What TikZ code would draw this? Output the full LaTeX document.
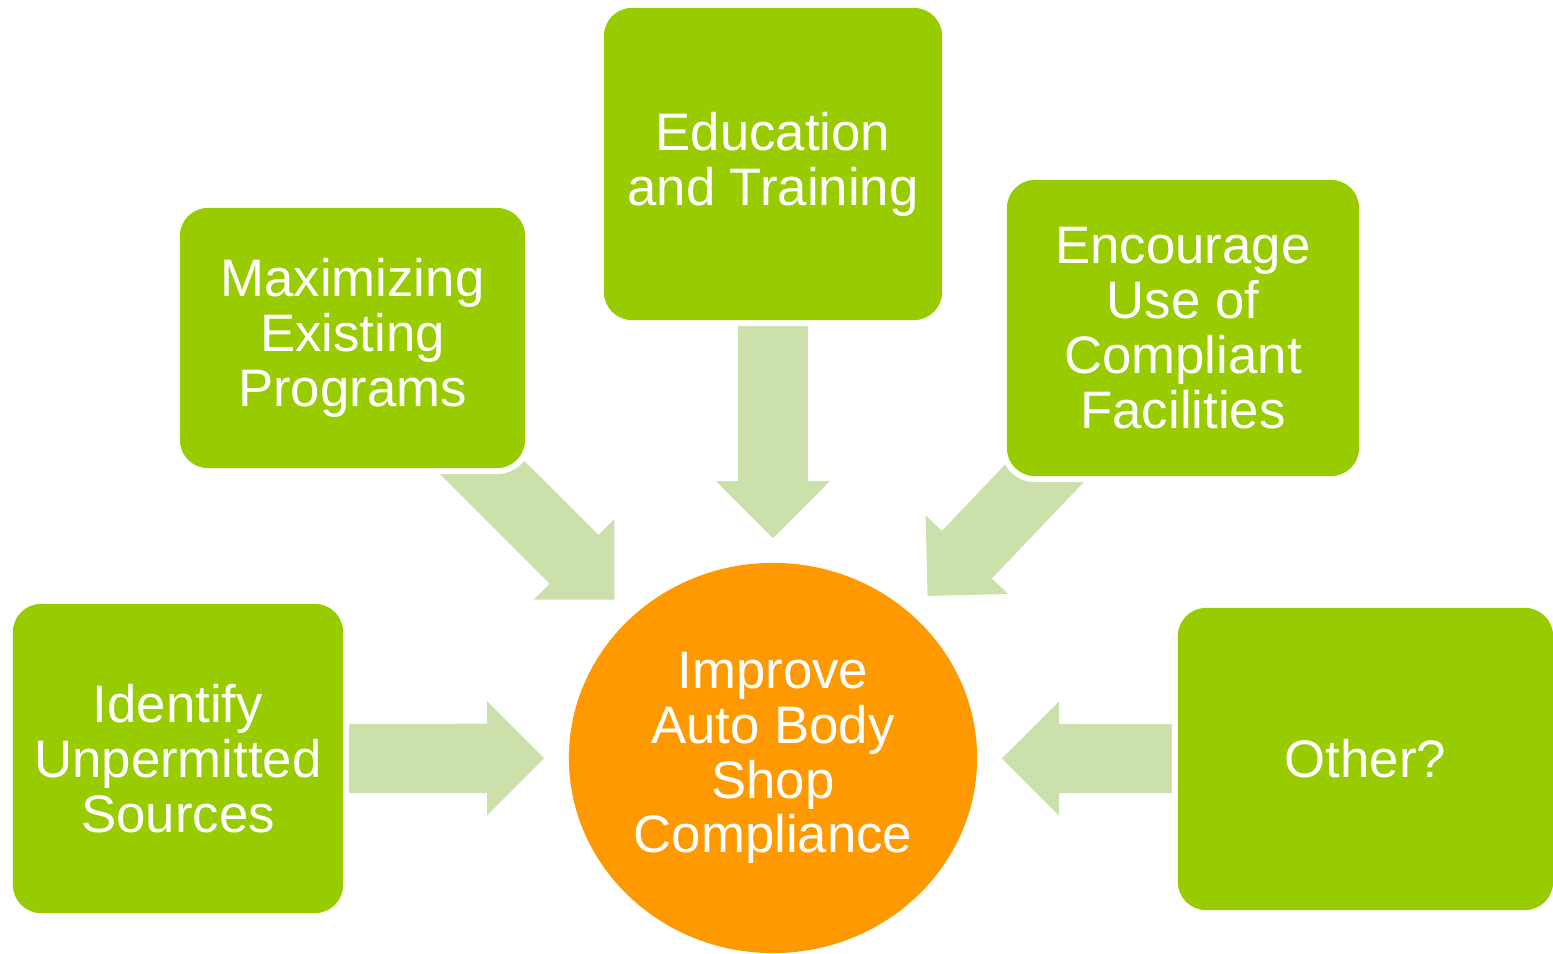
\documentclass[tikz,border=0pt]{standalone}
\usepackage{fontspec}
\setmainfont{Liberation Sans}
\usetikzlibrary{arrows.meta}
\usetikzlibrary{shapes.geometric}
\usetikzlibrary{backgrounds}

\definecolor{leafgreen}{RGB}{153,204,0}
\definecolor{palegreen}{RGB}{204,224,172}
\definecolor{shoporange}{RGB}{255,153,0}

\tikzset{
  task/.style={rectangle, rounded corners=0.28cm, fill=leafgreen, text=white,
    align=center, inner sep=0pt, preaction={draw=white, line width=0.12cm}},
  goalbox/.style={ellipse, fill=shoporange, text=white, align=center, inner sep=0pt,
    minimum width=4.08cm, minimum height=3.90cm},
  feed/.style={draw=palegreen, line width=0.69cm, shorten >=0.24cm,
    -{Triangle[length=0.57cm, width=1.14cm, line width=0pt]}}
}

\begin{document}
\begin{tikzpicture}[x=0.01cm, y=-0.01cm, font=\fontsize{15pt}{15.6pt}\selectfont]

\useasboundingbox (0,0) rectangle (1553,954);

% centre
\node[goalbox] (goal) at (773,758) {Improve\\Auto Body\\Shop\\Compliance};

% the five feeding blocks
\node[task, minimum width=3.38cm, minimum height=3.12cm] (edu) at (773,164) {Education\\and Training};
\node[task, minimum width=3.45cm, minimum height=2.60cm] (maxi) at (352.5,338) {Maximizing\\Existing\\Programs};
\node[task, minimum width=3.52cm, minimum height=2.96cm] (enc) at (1183,328) {Encourage\\Use of\\Compliant\\Facilities};
\node[task, minimum width=3.30cm, minimum height=3.09cm] (ident) at (178,758.5) {Identify\\Unpermitted\\Sources};
\node[task, minimum width=3.75cm, minimum height=3.02cm] (other) at (1365.5,759) {Other?};

\begin{pgfonlayer}{background}
\draw[feed] (edu.center) -- (goal);
\draw[feed] (maxi.center) -- (goal);
\draw[feed] (enc.center) -- (goal);
\draw[feed] (ident.center) -- (goal);
\draw[feed] (other.center) -- (goal);
\end{pgfonlayer}

\end{tikzpicture}
\end{document}
